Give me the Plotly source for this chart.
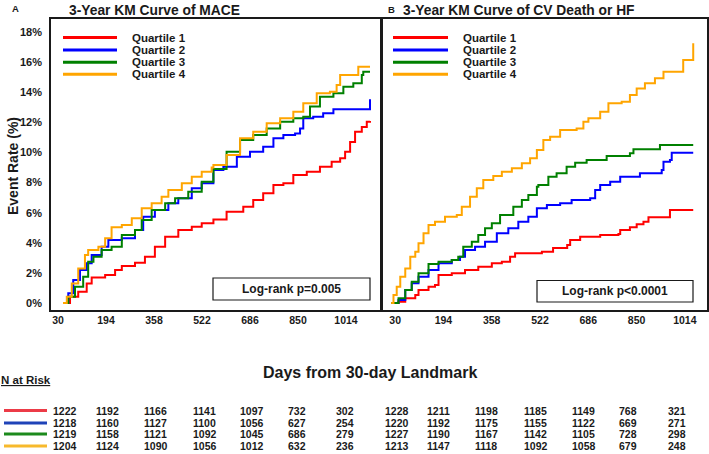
import plotly.graph_objects as go

W, H = 709, 454

# ---------------- data ----------------
quartiles = ["Quartile 1", "Quartile 2", "Quartile 3", "Quartile 4"]
curve_colors = ["#ff0000", "#0000ff", "#008000", "#ffa500"]
table_colors = ["#ec3b47", "#1f43b8", "#1c8a1c", "#f7b92c"]

x_ticks = [30, 194, 358, 522, 686, 850, 1014]
y_ticks = [0, 2, 4, 6, 8, 10, 12, 14, 16, 18]
y_ticklabels = ["0%", "2%", "4%", "6%", "8%", "10%", "12%", "14%", "16%", "18%"]

# Panel A: MACE
mace_q1_days = [30, 54, 82, 111, 128, 174, 208, 231, 276, 310, 344, 379, 424, 470, 504, 544, 589, 646, 680,
                714, 749, 783, 817, 863, 908, 948, 977, 994, 1011, 1028, 1051, 1068, 1079]
mace_q1_rate = [0, 0.42, 0.75, 1.3, 1.7, 1.86, 2.2, 2.46, 2.68, 3.08, 3.74, 4.4, 4.85, 5.07, 5.3, 5.55, 6.07, 6.4,
                6.84, 7.29, 7.84, 7.95, 8.5, 8.72, 9.06, 9.39, 9.61, 10.05, 10.7, 11.38, 11.7, 12.05, 12.1]
mace_q2_days = [30, 48, 65, 88, 111, 128, 162, 185, 231, 276, 304, 344, 390, 424, 470, 504, 544, 578, 624, 669,
                714, 749, 783, 823, 840, 851, 885, 919, 954, 1073, 1079]
mace_q2_rate = [0, 0.64, 1.53, 2.19, 2.64, 3.19, 3.74, 4.19, 4.3, 4.85, 5.73, 6.18, 6.62, 6.96, 7.62, 7.95, 8.84,
                9.06, 9.72, 10.05, 10.39, 10.94, 11.16, 11.27, 11.6, 12.27, 12.38, 12.6, 12.87, 12.87, 13.53]
mace_q3_days = [30, 48, 71, 99, 116, 134, 162, 196, 231, 276, 299, 333, 379, 413, 458, 504, 544, 589, 635, 680,
                726, 772, 817, 851, 874, 908, 954, 988, 1022, 1051, 1056, 1079]
mace_q3_rate = [0, 0.42, 1.08, 1.75, 2.74, 3.08, 3.52, 3.74, 4.52, 4.85, 5.51, 6.18, 6.62, 6.96, 7.4, 8.06, 8.9,
                10.05, 10.83, 11.16, 11.6, 12.05, 12.27, 12.38, 13.05, 13.71, 13.93, 14.37, 14.6, 15.15, 15.37, 15.37]
mace_q4_days = [30, 43, 60, 82, 105, 116, 151, 174, 196, 231, 265, 299, 333, 367, 390, 436, 470, 504, 538, 544,
                589, 635, 680, 726, 772, 817, 851, 897, 942, 965, 977, 1034, 1039, 1079]
mace_q4_rate = [0, 0.42, 1.3, 2.3, 3.19, 3.52, 3.74, 4.3, 5.03, 5.18, 5.63, 6.29, 6.62, 7.06, 7.5, 7.95, 8.39,
                8.72, 9.0, 9.17, 9.83, 10.94, 11.38, 11.94, 12.27, 12.71, 13.27, 13.93, 14.04, 14.48, 15.15, 15.15,
                15.7, 15.7]

# Panel B: CV death or HF
cvhf_q1_days = [30, 55, 78, 112, 123, 157, 179, 191, 236, 281, 326, 372, 406, 434, 451, 542, 580, 628, 638,
                672, 740, 802, 808, 841, 864, 887, 904, 977, 1056]
cvhf_q1_rate = [0, 0.09, 0.31, 0.53, 0.86, 1.08, 1.2, 1.86, 1.97, 2.19, 2.41, 2.64, 2.74, 3.08, 3.3, 3.41, 3.65,
                3.85, 4.19, 4.4, 4.52, 4.58, 4.85, 5.03, 5.23, 5.4, 5.69, 6.18, 6.18]
cvhf_q2_days = [30, 55, 78, 100, 123, 157, 191, 236, 264, 281, 315, 349, 389, 428, 462, 496, 525, 559, 604,
                643, 706, 723, 740, 774, 808, 875, 949, 955, 977, 983, 1056]
cvhf_q2_rate = [0, 0.2, 0.86, 1.31, 1.75, 2.19, 2.64, 2.86, 3.08, 3.52, 3.74, 4.07, 4.63, 4.96, 5.4, 5.73, 6.29,
                6.51, 6.62, 6.84, 6.96, 7.51, 7.84, 8.06, 8.39, 8.62, 8.84, 9.39, 9.5, 9.99, 9.99]
cvhf_q3_days = [30, 55, 78, 100, 123, 157, 191, 236, 258, 275, 304, 326, 349, 372, 400, 445, 474, 496, 525,
                530, 564, 592, 626, 655, 694, 762, 841, 853, 943, 1056]
cvhf_q3_rate = [0, 0.31, 0.86, 1.42, 1.97, 2.59, 2.74, 2.86, 3.08, 3.74, 4.07, 4.52, 4.96, 5.3, 5.85, 6.4, 6.84,
                7.18, 7.73, 7.84, 8.39, 8.62, 9.06, 9.32, 9.5, 9.77, 9.95, 10.21, 10.5, 10.5]
cvhf_q4_days = [30, 38, 49, 61, 78, 95, 112, 123, 140, 157, 179, 213, 253, 270, 298, 321, 343, 377, 406, 440,
                474, 502, 525, 547, 570, 604, 660, 683, 700, 740, 768, 813, 841, 864, 892, 926, 955, 1017, 1022,
                1054, 1056]
cvhf_q4_rate = [0, 0.53, 1.08, 1.75, 2.3, 3.08, 3.41, 3.97, 4.63, 5.18, 5.4, 5.73, 5.85, 6.4, 7.06, 7.62, 8.17,
                8.44, 8.72, 8.95, 9.28, 9.61, 10.17, 10.83, 11.05, 11.5, 11.6, 12.05, 12.27, 12.71, 13.27, 13.38,
                13.82, 14.26, 14.6, 14.93, 15.37, 15.37, 16.15, 16.15, 17.26]

# N at risk
risk_mace_q1 = [1222, 1192, 1166, 1141, 1097, 732, 302]
risk_mace_q2 = [1218, 1160, 1127, 1100, 1056, 627, 254]
risk_mace_q3 = [1219, 1158, 1121, 1092, 1045, 686, 279]
risk_mace_q4 = [1204, 1124, 1090, 1056, 1012, 632, 236]
risk_cvhf_q1 = [1228, 1211, 1198, 1185, 1149, 768, 321]
risk_cvhf_q2 = [1220, 1192, 1175, 1155, 1122, 669, 271]
risk_cvhf_q3 = [1227, 1190, 1167, 1142, 1105, 728, 298]
risk_cvhf_q4 = [1213, 1147, 1118, 1092, 1058, 679, 248]

title_a = "3-Year KM Curve of MACE"
title_b = "3-Year KM Curve of CV Death or HF"
pval_a = "Log-rank p=0.005"
pval_b = "Log-rank p<0.0001"

# ---------------- layout helpers ----------------
def px(x):
    return x / W

def py(y):
    return 1 - y / H

FONT = "Liberation Sans, Arial, sans-serif"
INK = "#1a1a1a"

fig = go.Figure()

mace = [(mace_q1_days, mace_q1_rate), (mace_q2_days, mace_q2_rate),
        (mace_q3_days, mace_q3_rate), (mace_q4_days, mace_q4_rate)]
cvhf = [(cvhf_q1_days, cvhf_q1_rate), (cvhf_q2_days, cvhf_q2_rate),
        (cvhf_q3_days, cvhf_q3_rate), (cvhf_q4_days, cvhf_q4_rate)]

for i, (d, r) in enumerate(mace):
    fig.add_trace(go.Scatter(x=d, y=r, mode="lines", name=quartiles[i],
                             line=dict(color=curve_colors[i], width=2, shape="hv"),
                             xaxis="x", yaxis="y", showlegend=False, hoverinfo="skip"))
for i, (d, r) in enumerate(cvhf):
    fig.add_trace(go.Scatter(x=d, y=r, mode="lines", name=quartiles[i],
                             line=dict(color=curve_colors[i], width=2, shape="hv"),
                             xaxis="x2", yaxis="y2", showlegend=False, hoverinfo="skip"))

y_dom = [py(310), py(19)]
y_rng = [-0.465, 18.87]

axis_common = dict(showline=True, linewidth=1.6, linecolor=INK, mirror=True, showgrid=False,
                   zeroline=False, ticks="", fixedrange=True)

fig.update_layout(
    width=W, height=H, margin=dict(l=0, r=0, t=0, b=0),
    paper_bgcolor="white", plot_bgcolor="white",
    font=dict(family=FONT, color=INK),
    xaxis=dict(domain=[px(51), px(381)], range=[-11, 1116.6], anchor="y",
               tickvals=x_ticks, ticktext=[str(v) for v in x_ticks], ticklabelshift=-5,
               tickfont=dict(size=10.5, family=FONT, weight="bold", color=INK), **axis_common),
    yaxis=dict(domain=y_dom, range=y_rng, anchor="x",
               tickvals=y_ticks, ticktext=y_ticklabels, ticklabelstandoff=5,
               tickfont=dict(size=11, family=FONT, weight="bold", color=INK), **axis_common),
    xaxis2=dict(domain=[px(382), px(707)], range=[-1, 1102.8], anchor="y2",
                tickvals=x_ticks, ticktext=[str(v) for v in x_ticks], ticklabelshift=4,
                tickfont=dict(size=10.5, family=FONT, weight="bold", color=INK), **axis_common),
    yaxis2=dict(domain=y_dom, range=y_rng, anchor="x2", showticklabels=False, **axis_common),
)

shapes = []
annotations = []

def text(x, y, s, size, xanchor="left", angle=0):
    annotations.append(dict(x=px(x), y=py(y), xref="paper", yref="paper", text=s, showarrow=False,
                            xanchor=xanchor, yanchor="middle", textangle=angle,
                            font=dict(family=FONT, size=size, color=INK, weight="bold")))

# panel letters and titles
text(10, 8.5, "A", 9.5)
text(385.5, 9.5, "B", 9.5)
text(67, 10.5, title_a, 13.8)
text(400.5, 11, title_b, 13.8)

# y-axis title
text(13, 166, "Event Rate (%)", 14, xanchor="center", angle=-90)

# legends inside panels
leg_y = [37.6, 49.9, 62.2, 74.3]
for i in range(4):
    for (x0, x1, tx) in [(63, 117, 130), (393, 448, 460.5)]:
        shapes.append(dict(type="line", xref="paper", yref="paper", x0=px(x0), x1=px(x1),
                           y0=py(leg_y[i]), y1=py(leg_y[i]),
                           line=dict(color=curve_colors[i], width=3)))
        text(tx, leg_y[i], quartiles[i], 11.5)

# log-rank boxes
for (x0, x1, y0, y1, s) in [(213, 370, 278, 300, pval_a), (537, 693, 280.5, 302, pval_b)]:
    shapes.append(dict(type="rect", xref="paper", yref="paper", x0=px(x0), x1=px(x1),
                       y0=py(y1), y1=py(y0), line=dict(color=INK, width=1.2), fillcolor="white"))
    text((x0 + x1) / 2, (y0 + y1) / 2, s, 12, xanchor="center")

# x-axis title
text(370, 372, "Days from 30-day Landmark", 16, xanchor="center")

# N at risk table
text(-1, 380, "<u>N at Risk</u>", 11.5)
row_y = [410.5, 423, 434, 446]
cols_a = [51, 94, 142, 191, 238, 286, 334]
cols_b = [383, 425, 473, 522, 570, 617, 666]
risk_a = [risk_mace_q1, risk_mace_q2, risk_mace_q3, risk_mace_q4]
risk_b = [risk_cvhf_q1, risk_cvhf_q2, risk_cvhf_q3, risk_cvhf_q4]
for i in range(4):
    shapes.append(dict(type="line", xref="paper", yref="paper", x0=px(4), x1=px(47),
                       y0=py(row_y[i]), y1=py(row_y[i]), line=dict(color=table_colors[i], width=3)))
    for j in range(7):
        text(cols_a[j], row_y[i], str(risk_a[i][j]), 10.5)
        text(cols_b[j], row_y[i], str(risk_b[i][j]), 10.5)

fig.update_layout(shapes=shapes, annotations=annotations)
fig.write_html("out.html", config={"displayModeBar": False},
               post_script="document.body.style.margin='0';document.body.style.overflow='hidden';")
